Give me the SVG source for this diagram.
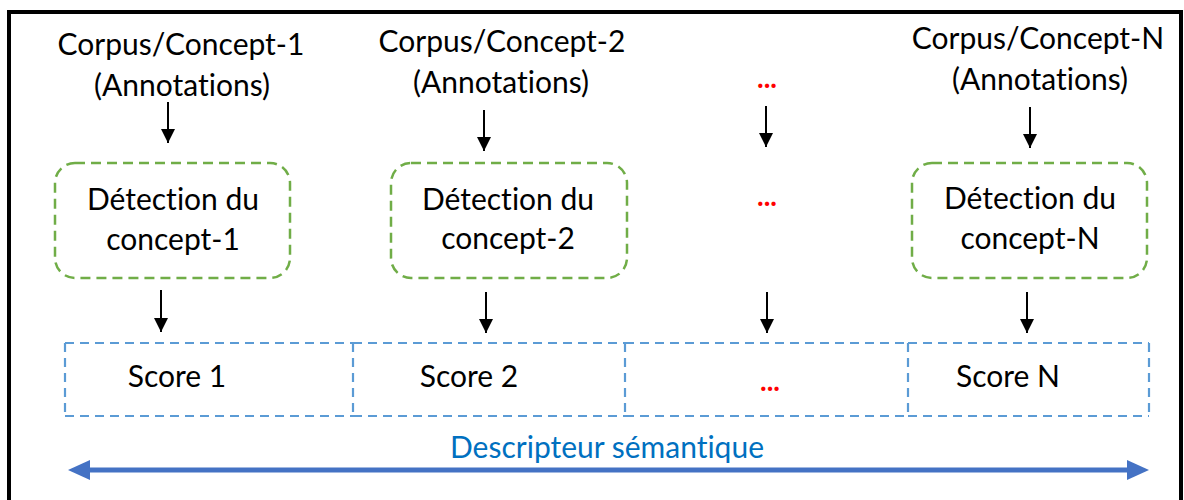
<svg xmlns="http://www.w3.org/2000/svg" width="1184" height="500" viewBox="0 0 1184 500">
<defs>
<style>
text{font-variant-ligatures:none;font-feature-settings:"liga" 0}
.t{font-family:Lato,"Liberation Sans",sans-serif;font-size:30px;fill:#000;text-anchor:middle}
.d{font-family:Lato,"Liberation Sans",sans-serif;font-size:28px;font-weight:bold;fill:#FF0000;text-anchor:middle}
.desc{font-family:Lato,"Liberation Sans",sans-serif;font-size:30px;fill:#0070C0;text-anchor:middle}
.g{fill:none;stroke:#70AD47;stroke-width:2.5;stroke-dasharray:10 6}
.b{fill:none;stroke:#5B9BD5;stroke-width:2.2;stroke-dasharray:9 6}
.a{stroke:#000;stroke-width:2;fill:none;marker-end:url(#ah)}
</style>
<marker id="ah" viewBox="0 0 10 10" refX="10" refY="5" markerWidth="7" markerHeight="7" orient="auto" markerUnits="strokeWidth">
<path d="M0,0 L10,5 L0,10 z" fill="#000"/>
</marker>
</defs>
<rect x="0" y="0" width="1184" height="500" fill="#fff"/>
<rect id="frame" x="9" y="12" width="1172" height="500" fill="none" stroke="#000" stroke-width="4"/>

<g id="corpus1"><text class="t" x="181" y="55">Corpus/Concept-1</text><text class="t" x="182" y="96">(Annotations)</text></g>
<g id="corpus2"><text class="t" x="502" y="52">Corpus/Concept-2</text><text class="t" x="501" y="93">(Annotations)</text></g>
<g id="corpusDots"><text class="d" x="767" y="88">...</text></g>
<g id="corpusN"><text class="t" x="1038" y="49">Corpus/Concept-N</text><text class="t" x="1040" y="90">(Annotations)</text></g>

<g id="det1"><rect class="g" x="55" y="163" width="235" height="115" rx="20"/><text class="t" x="173" y="210">Détection du</text><text class="t" x="173" y="250">concept-1</text></g>
<g id="det2"><rect class="g" x="391" y="163" width="236" height="115" rx="20"/><text class="t" x="508" y="210">Détection du</text><text class="t" x="508" y="249">concept-2</text></g>
<g id="detDots"><text class="d" x="767" y="206">...</text></g>
<g id="detN"><rect class="g" x="912" y="163" width="235" height="115" rx="20"/><text class="t" x="1030" y="209">Détection du</text><text class="t" x="1030" y="249">concept-N</text></g>

<g id="score1"><path class="b" d="M65,343 H353 M65,416 H353 M65,343 V416"/><text class="t" x="177" y="387">Score 1</text></g>
<g id="score2"><path class="b" d="M353,343 H625 M353,416 H625 M353,343 V416"/><text class="t" x="469" y="387">Score 2</text></g>
<g id="scoreDots"><path class="b" d="M625,343 H908 M625,416 H908 M625,343 V416"/><text class="d" x="770" y="391">...</text></g>
<g id="scoreN"><path class="b" d="M908,343 H1149 M908,416 H1149 M908,343 V416 M1149,343 V416"/><text class="t" x="1008" y="387">Score N</text></g>

<g id="descripteur"><text class="desc" x="607" y="458">Descripteur sémantique</text></g>

<g id="connectors">
<line class="a" x1="168" y1="102" x2="168" y2="143"/>
<line class="a" x1="484" y1="110" x2="484" y2="151"/>
<line class="a" x1="766" y1="106" x2="766" y2="147"/>
<line class="a" x1="1030" y1="107" x2="1030" y2="148"/>
<line class="a" x1="161" y1="290" x2="161" y2="332"/>
<line class="a" x1="486" y1="292" x2="486" y2="333"/>
<line class="a" x1="767" y1="292" x2="767" y2="333"/>
<line class="a" x1="1027" y1="292" x2="1027" y2="333"/>
<g id="blueArrow">
<line x1="86" y1="470" x2="1132" y2="470" stroke="#4472C4" stroke-width="5"/>
<path d="M68,470 L90,460 L90,480 z" fill="#4472C4"/>
<path d="M1149,470 L1127,460 L1127,480 z" fill="#4472C4"/>
</g>
</g>
</svg>
